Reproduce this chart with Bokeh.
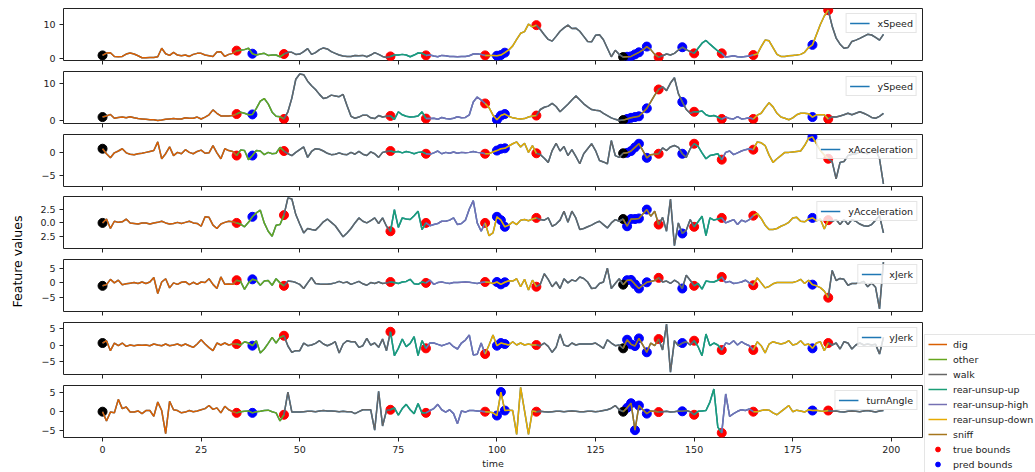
import numpy as np
from bokeh.plotting import figure
from bokeh.models import Range1d, LinearAxis, FixedTicker, Legend, LegendItem, Label
from bokeh.layouts import column, row
from bokeh.embed import file_html
from bokeh.resources import INLINE

# ---------------- data ----------------
time = np.arange(0, 199)

x_speed = [
    0.9, 1.6, 1.7, 0.6, 0.5, 0.6, 1.3, 1.6, 1.3, 0.8,
    0.2, 0.2, 0.3, 0.3, 0.5, 3.0, 1.4, 0.9, 1.8, 1.0,
    0.8, 1.0, 0.6, 1.2, 1.5, 1.5, 1.0, 0.8, 0.6, 1.9,
    2.0, 0.6, 1.2, 1.5, 2.3, 2.4, 2.6, 3.0, 1.4, 1.0,
    1.3, 1.5, 0.9, 1.0, 1.0, 0.5, 1.3, 1.8, 1.8, 1.2,
    1.3, 2.0, 2.9, 1.2, 1.7, 2.6, 3.1, 2.8, 2.0, 1.5,
    1.0, 0.7, 0.6, 0.6, 0.9, 0.8, 0.9, 0.5, 1.0, 1.7,
    1.2, 0.6, 0.3, 0.6, 1.0, 1.0, 1.2, 1.0, 0.5, 1.0,
    1.6, 1.5, 0.9, 1.0, 0.7, 0.5, 0.9, 0.8, 0.6, 0.6,
    0.5, 0.6, 0.6, 0.8, 1.3, 1.4, 1.2, 0.9, 0.9, 0.9,
    0.8, 1.0, 1.7, 2.5, 3.7, 5.6, 7.4, 7.9, 10.1, 9.3,
    9.8, 8.5, 7.0, 5.6, 5.1, 6.5, 8.0, 9.0, 9.8, 8.8,
    8.9, 8.0, 6.5, 5.0, 4.9, 6.8, 7.0, 5.5, 3.0, 0.5,
    2.4, 1.2, 0.4, 0.5, 0.6, 1.2, 1.8, 2.5, 3.5, 2.6,
    1.2, 0.4, 0.8, 1.3, 1.0, 1.5, 2.5, 3.3, 2.6, 2.0,
    1.5, 3.0, 4.5, 5.3, 4.2, 3.2, 2.2, 1.5, 0.4, 0.6,
    0.8, 0.5, 0.4, 0.6, 0.7, 1.0, 1.3, 3.5, 5.4, 5.2,
    3.2, 1.2, 0.6, 0.6, 0.8, 0.9, 1.0, 1.2, 1.8, 3.2,
    4.0, 7.0, 10.0, 12.5, 14.2, 9.5, 6.0, 4.2, 3.0, 3.2,
    5.0, 5.4, 5.9, 6.5, 7.1, 6.9, 6.2, 5.4, 7.1,
]

y_speed = [
    1.0, 1.3, 1.7, 0.7, 0.9, 1.0, 0.8, 1.1, 0.8, 0.6,
    0.5, 0.4, 0.3, 0.3, 0.1, 0.2, 0.4, 0.5, 0.6, 0.5,
    0.5, 0.8, 0.7, 0.7, 1.0, 0.5, 1.0, 1.6, 2.9, 2.0,
    1.3, 1.3, 1.3, 1.4, 1.8, 2.3, 2.0, 1.6, 1.7, 3.3,
    5.2, 5.9, 4.5, 2.3, 1.2, 1.1, 0.5, 2.4, 6.0, 11.0,
    12.4, 12.2, 10.5, 9.3, 8.3, 7.0, 5.9, 6.2, 6.8, 6.6,
    6.4, 7.0, 4.0, 1.2, 0.7, 1.0, 1.5, 1.5, 0.8, 0.6,
    1.4, 1.0, 1.2, 1.3, 0.4, 2.4, 1.6, 1.2, 1.0, 1.1,
    1.3, 2.4, 0.6, 0.6, 0.7, 0.4, 0.9, 0.6, 0.5, 0.7,
    1.1, 0.8, 0.9, 1.6, 5.0, 6.3, 5.5, 4.6, 3.5, 1.5,
    0.3, 1.4, 1.8, 1.2, 0.8, 0.6, 0.5, 0.6, 1.0, 1.3,
    1.4, 3.0, 3.6, 3.9, 4.6, 3.8, 2.4, 3.4, 4.4, 5.5,
    6.6, 5.6, 4.5, 3.7, 3.0, 2.8, 2.7, 2.0, 1.4, 0.8,
    0.4, 0.1, 0.2, 0.5, 0.8, 1.0, 1.2, 2.2, 3.3, 5.0,
    6.8, 8.3, 9.0, 8.0, 10.0, 11.4, 7.2, 5.0, 3.0, 2.0,
    2.4, 2.4, 2.6, 1.6, 1.2, 1.4, 1.0, 0.5, 1.0, 0.6,
    0.5, 1.1, 0.5, 0.6, 0.8, 0.5, 1.5, 2.0, 3.5, 4.8,
    3.7, 2.0, 1.0, 0.7, 0.3, 0.8, 1.6, 2.0, 2.0, 1.9,
    1.0, 1.6, 1.6, 1.6, 0.5, 1.1, 1.0, 1.3, 1.6, 2.0,
    1.6, 2.0, 2.4, 2.0, 1.5, 0.9, 0.7, 1.2, 2.0,
]

x_acceleration = [
    0.9, -0.2, -1.1, 0.0, 0.4, 0.9, 0.0, -0.3, -0.4, -0.2,
    -0.1, 0.1, 0.3, 0.5, 2.4, -1.3, -0.2, 1.3, -0.6, 0.1,
    -0.2, 0.7, 0.1, -0.2, 0.3, 0.6, -0.1, 0.0, 1.6, 0.0,
    -1.3, 0.9, 0.5, 0.3, -0.6, 0.6, 0.5, -1.5, -0.6, 0.5,
    0.4, -0.4, 0.1, -0.2, -0.1, 1.2, 0.4, -0.2, -0.6, 0.1,
    0.7, 1.3, -1.0, 0.3, 0.9, 0.8, 0.4, -0.1, -0.4, -0.3,
    0.0, -0.3, -0.4, 0.1, -0.3, 0.3, -0.3, -0.6, 0.2, -0.2,
    -1.0, 0.1, 0.3, 0.4, 0.2, 0.3, 0.0, 0.3, 0.1, -0.2,
    0.1, 0.2, -0.2, -0.3, 0.0, 0.4, -0.2, 0.1, -0.1, 0.2,
    -0.1, 0.1, 0.0, 0.1, 0.3, 0.1, 0.0, -0.2, -0.2, 0.2,
    0.5, 0.9, 1.0, 1.5, 2.0, 2.4, 1.3, 2.1, 0.1, 1.6,
    -0.1, -0.4, -1.2, -2.1, 0.5, 2.1, 0.4, 1.4, -0.6, 0.7,
    -0.8, -2.4, -0.2, 0.9, 2.0, 0.5, -1.7, -2.0, -2.4, 2.7,
    -0.6, -1.0, -0.1, 0.0, 0.4, 1.2, 2.0, 0.5, -1.1, -0.4,
    -0.3, -0.2, 1.1, 0.5, 1.3, 1.6, 1.2, -0.2, -1.0, 0.9,
    2.0, 1.4, 0.0, -1.3, -0.6, -0.4, -0.2, -1.5, 0.1, 0.4,
    -0.4, 0.0, 0.4, 0.7, 0.9, 0.7, 2.4, 2.2, 1.6, -0.5,
    -2.1, -1.3, -0.6, 0.1, 0.1, 0.2, 0.3, 0.4, 1.6, 3.2,
    3.5, 2.0, 0.5, -0.5, -1.3, -2.0, -5.7, -2.1, -1.9, -0.6,
    -0.3, -0.2, 0.2, 0.0, -0.2, 0.4, 0.8, -1.3, -6.8,
]

y_acceleration = [
    0.0, 0.7, -1.0, 0.3, 0.1, 0.2, 0.7, 0.0, -0.1, -0.2,
    0.0, 0.0, -0.2, 0.0, 0.1, 0.3, 0.0, -0.2, -0.1, 0.1,
    -0.1, 0.1, 0.3, 0.0, -0.1, -0.6, 1.1, 1.0, -0.4, -1.0,
    -0.2, 0.1, 0.3, 0.2, 0.0, -0.2, -0.7, 0.1, 1.1, 1.8,
    2.3, 0.0, -1.5, -2.4, -0.4, -0.3, 1.4, 4.5, 4.3, 1.5,
    -0.2, -1.8, -1.0, -1.2, -1.3, -0.6, 0.2, 0.7, 0.1, -0.5,
    -1.5, -2.5, -1.8, -1.0, 0.0, 0.9, 0.3, 0.0, 0.4, 0.9,
    -0.1, 0.9, -0.6, -1.5, 2.4, -0.8, 0.9, 0.7, 0.6, 1.3,
    2.1, -1.2, 0.0, -0.5, -0.3, -0.1, 0.3, 0.3, 0.5, 0.9,
    -0.3, -0.1, 0.5, 2.5, 4.0, 0.0, -1.5, 0.0, -2.3, -1.8,
    1.1, 0.5, -0.7, -0.4, 0.2, -0.3, 0.5, 0.6, 0.4, 0.7,
    0.9, 0.6, 0.5, 0.9, -0.6, -0.2, 0.5, 2.1, 0.1, 2.1,
    0.9, -1.2, -1.0, -0.7, -0.4, 0.0, 0.3, -0.3, -0.9, 0.0,
    0.6, 0.3, 0.7, -0.6, 0.7, 0.7, 0.8, 1.6, 2.4, 1.2,
    2.1, -0.3, 1.0, -1.5, 4.3, -4.1, 0.0, -1.9, -1.3, 0.6,
    -0.7, 0.2, 1.2, -2.3, 0.9, 0.5, 0.7, 0.9, 0.0, 0.3,
    0.6, -0.3, 0.5, 0.2, 0.6, 1.3, 1.7, 0.8, -0.4, -1.2,
    -1.2, -1.0, -0.6, -0.3, 0.1, 0.9, 1.0, 0.3, 0.2, 0.7,
    0.9, 0.4, 0.7, -1.1, 0.5, 0.3, 0.6, -0.3, 0.6, -0.3,
    0.6, 0.3, -0.2, -0.5, -0.6, -0.3, 0.5, 1.3, -1.8,
]

x_jerk = [
    -1.0, -0.6, 1.2, 0.0, 0.9, -0.6, -0.3, -0.1, 0.1, -0.2,
    0.3, -0.2, 0.3, 1.8, -3.6, 0.3, 1.4, -1.7, 0.0, -0.5,
    0.2, 0.4, -0.6, 0.2, -0.5, 0.3, 0.1, 1.4, -0.5, -1.9,
    2.0, -0.5, -0.4, -0.5, 0.9, 0.5, -2.2, 0.0, 1.2, 0.8,
    -0.8, 0.6, 0.8, -0.8, 1.4, 0.0, -1.0, 0.6, 0.5, 0.1,
    -0.5, -1.9, 0.0, 1.8, -0.2, -0.4, -0.5, -0.5, -0.3, 0.0,
    0.5, 0.0, 0.3, -0.5, 0.0, 0.5, -0.3, -0.8, 0.1, -0.2,
    0.3, -0.2, 0.0, 0.3, 0.1, -0.2, 0.3, 0.5, 1.2, -0.3,
    -0.5, 0.3, 0.0, 0.9, -0.5, 0.1, 0.3, 0.0, -0.2, 0.1,
    0.1, 0.2, 0.3, 0.2, 0.0, -0.2, 0.1, 0.3, 0.2, -0.2,
    0.3, -0.5, 0.2, 0.7, 0.6, 1.4, -1.3, 1.2, -2.4, 0.9,
    -1.3, -0.5, 3.1, 1.2, -1.3, 0.3, -1.9, 1.4, 0.0, 1.0,
    0.6, 2.0, 1.5, 0.3, -1.9, -1.7, -0.2, 0.3, 5.0, -1.9,
    -0.2, 1.4, -0.6, 0.9, 1.0, -0.5, -1.9, -0.8, 0.2, 0.5,
    0.8, 1.7, 0.3, 0.6, -0.2, 0.9, 0.1, -1.9, 2.6, 0.9,
    -1.0, -0.2, -2.1, 0.6, 0.4, 0.3, 0.9, 2.0, 0.1, 0.5,
    -0.2, 0.0, 0.3, 0.9, 0.0, -0.8, 1.7, 0.0, -1.7, -1.2,
    -0.3, 0.1, 0.1, 0.1, 0.1, 0.1, 0.5, 1.2, -0.2, 0.9,
    -0.6, -1.0, -1.6, -2.8, -5.0, 4.2, 0.8, 1.5, 1.2, -0.8,
    -0.2, -0.2, 0.0, 0.5, -1.3, 0.0, -1.5, -8.8, 7.0,
]

y_jerk = [
    0.6, 1.3, -1.7, 0.6, -0.2, 0.6, -0.4, 0.0, -0.2, 0.0,
    -0.1, 0.0, -0.2, 0.3, 0.0, -0.2, 0.3, -0.2, 0.0, 0.3,
    -0.2, 0.3, -0.2, -0.7, 0.3, 1.6, 0.3, -0.8, -1.7, 0.6,
    0.0, 0.6, 0.0, 0.3, 0.3, 0.0, 1.0, 0.6, -0.2, 1.3,
    -2.4, -1.2, 0.5, 2.3, 0.6, 2.3, 2.8, -0.3, -2.2, -1.7,
    -1.7, 0.6, -0.2, 0.0, 0.5, 1.3, 0.3, -0.2, 0.3, 1.0,
    -2.4, 0.3, 1.3, 1.0, 1.0, -0.7, -0.2, 2.0, 0.0, 0.6,
    -0.7, 1.8, -1.7, 4.0, -3.2, -1.0, 1.8, -0.5, 0.5, 2.5,
    -3.2, 1.3, -1.0, 0.6, 0.6, 0.2, -0.2, 0.2, 0.6, -0.5,
    -1.2, 0.6, 1.5, 3.0, -3.0, -2.8, 0.6, -2.7, 0.0, 3.0,
    -0.2, 0.6, 0.3, 0.0, 1.0, 0.0, 0.6, 0.0, 0.3, 0.0,
    0.0, -0.2, 0.6, -0.4, -2.2, -0.7, 3.3, 0.0, -0.4, 0.6,
    0.0, 0.3, 0.3, 0.3, 0.3, 0.6, -0.2, -1.0, 1.6, 0.6,
    -0.2, 0.0, -1.0, 1.6, 0.2, -0.3, 2.0, 0.0, -2.2, 0.6,
    -0.2, 1.8, -1.5, 6.3, -8.2, 1.3, -0.2, 0.6, 1.0, 0.0,
    1.3, -0.5, -3.2, 3.3, -0.2, 0.6, 0.0, -1.5, 0.6, 0.3,
    1.3, 0.0, 1.0, 0.3, -0.2, -1.5, 1.0, -0.2, -2.4, 0.3,
    1.0, 0.6, 0.3, 0.6, 1.3, 0.0, 0.3, 1.3, 0.0, 0.3,
    -1.0, 0.6, 1.0, -1.7, 0.6, 0.0, 0.6, -1.2, 1.0, 0.6,
    -1.2, 0.0, 0.6, 0.0, 0.3, 0.0, 0.2, -2.7, 2.3,
]

turn_angle = [
    0.0, -2.4, -0.1, -0.3, 3.2, 0.8, 1.2, -0.1, -0.1, 0.2,
    -0.5, 0.3, 0.3, -1.2, 2.5, 0.3, -5.7, 2.7, 0.5, 0.3,
    -0.3, -0.1, 0.3, 0.0, 0.2, 0.5, 0.8, 1.6, 0.6, 1.0,
    -0.3, 1.4, 0.5, 0.0, -0.3, 0.0, 0.1, 0.2, -0.3, 0.0,
    0.1, 0.3, 0.4, 0.0, -0.3, -2.4, -0.8, 5.1, -0.1, -0.1,
    -0.1, 0.0, 0.1, 0.1, 0.0, 0.2, 0.3, 0.2, 0.2, 0.1,
    0.0, 0.1, 0.0, 0.0, -0.5, 0.0, 0.5, 0.5, 0.5, -4.8,
    5.3, -3.7, 0.3, 0.5, 1.0, -0.9, 0.8, 1.9, 0.5, -0.5,
    2.1, -0.3, -0.3, 0.3, 0.8, 1.9, 0.5, -0.1, 0.5, -0.5,
    -3.1, 0.2, -0.1, 0.3, 0.3, 0.2, 0.1, 0.0, -0.1, -0.3,
    -1.0, 5.1, 0.3, 0.4, 0.3, -5.9, 6.3, 0.2, -5.9, 0.2,
    0.0, 0.1, 0.0, -0.1, 0.0, 0.1, 0.1, 0.0, 0.1, 0.2,
    0.1, 0.0, 0.0, 0.1, 0.1, 0.0, 0.1, 0.3, 0.5, 0.9,
    1.6, 0.5, 0.0, 1.0, 2.2, -4.8, 1.6, 0.5, -0.5, 0.2,
    0.1, -0.1, 0.0, 0.1, -0.1, 0.0, 0.2, 0.1, 0.3, 0.0,
    -0.8, 0.1, 0.2, 0.3, 2.5, 5.9, -4.0, -5.5, 4.6, -1.2,
    -0.5, 0.1, 0.5, 0.3, 0.7, 0.0, 0.0, 0.3, 0.5, 0.4,
    -0.3, -0.8, 0.0, 0.8, 1.6, 0.0, 0.4, 0.2, -0.1, 0.5,
    0.3, 0.4, 0.2, 0.1, 0.3, 0.1, 0.2, 0.0, -0.1, 0.1,
    0.2, 0.1, 0.0, 0.2, 0.3, 0.1, -0.1, 0.2, 0.3,
]

feature_names = ["xSpeed", "ySpeed", "xAcceleration", "yAcceleration", "xJerk", "yJerk", "turnAngle"]
feature_values = [x_speed, y_speed, x_acceleration, y_acceleration, x_jerk, y_jerk, turn_angle]

y_limits = [(-0.6, 14.7), (-0.7, 13.05), (-7.4, 4.03), (-4.6, 4.75), (-9.67, 7.9), (-8.9, 6.8), (-6.7, 6.8)]
y_ticks = [[0, 10], [0, 10], [-5, 0], [-2.5, 0, 2.5], [-5, 0, 5], [-5, 0, 5], [-5, 0, 5]]
y_tick_labels = [["0", "10"], ["0", "10"], ["\u22125", "0"], ["2.5", "0.0", "2.5"],
                 ["\u22125", "0", "5"], ["\u22125", "0", "5"], ["\u22125", "0", "5"]]
x_ticks = [0, 25, 50, 75, 100, 125, 150, 175, 200]

seg_bounds = [0, 34, 46, 73, 82, 97, 110, 132, 141, 150, 157, 165, 184, 198]
seg_labels = ["dig", "other", "walk", "rear-unsup-up", "rear-unsup-high", "rear-unsup-down", "walk",
              "sniff", "walk", "rear-unsup-up", "rear-unsup-high", "rear-unsup-down", "walk"]
behaviors = ["dig", "other", "walk", "rear-unsup-up", "rear-unsup-high", "rear-unsup-down", "sniff"]
behavior_colors = ["#d95f02", "#66a61e", "#666666", "#1b9e77", "#7570b3", "#e6ab02", "#a6761d"]

true_bounds = [34, 46, 73, 82, 97, 110, 141, 150, 157, 165, 184]
pred_bounds = [38, 100, 101, 102, 133, 134, 135, 136, 138, 147, 180]
seq_starts = [0, 132]

# ---------------- layout / style ----------------
FONT = "DejaVu Sans"
TICK_FS = "9.5px"
INK = "#222222"
SEG_ALPHA = 1.0
MARK = 9
fig_heights = [66, 62, 63, 63, 63, 67, 88]
borders_top = [8, 5, 6, 5, 5, 5, 1]
borders_bottom = [6, 5, 5, 6, 6, 10, 35]

figs = []
for k in range(7):
    vals = np.array(feature_values[k])
    p = figure(width=893, height=fig_heights[k],
               x_range=Range1d(-9.9, 207.9), y_range=Range1d(*y_limits[k]),
               output_backend="svg", toolbar_location=None,
               x_axis_location=None, y_axis_location=None,
               min_border_left=33, min_border_right=1,
               min_border_top=borders_top[k], min_border_bottom=borders_bottom[k])
    p.grid.visible = False
    p.outline_line_color = INK
    p.outline_line_width = 1
    p.background_fill_color = "white"
    p.border_fill_color = "white"

    yax = LinearAxis(ticker=FixedTicker(ticks=y_ticks[k]),
                     major_label_overrides={t: s for t, s in zip(y_ticks[k], y_tick_labels[k])})
    yax.axis_line_color = None
    yax.major_tick_out = 4
    yax.major_tick_in = 0
    yax.minor_tick_line_color = None
    yax.major_tick_line_color = INK
    yax.major_label_text_font = FONT
    yax.major_label_text_font_size = TICK_FS
    yax.major_label_text_color = INK
    yax.major_label_standoff = 4
    p.add_layout(yax, "left")

    xax = LinearAxis(ticker=FixedTicker(ticks=x_ticks))
    xax.axis_line_color = None
    xax.major_tick_out = 4
    xax.major_tick_in = 0
    xax.minor_tick_line_color = None
    xax.major_tick_line_color = INK
    xax.major_label_text_font = FONT
    if k < 6:
        xax.major_label_text_font_size = "0px"
        xax.major_label_text_color = None
        xax.major_label_standoff = 0
    else:
        xax.major_label_text_font_size = TICK_FS
        xax.major_label_text_color = INK
        xax.major_label_standoff = 4
        xax.axis_label = "time"
        xax.axis_label_text_font = FONT
        xax.axis_label_text_font_size = TICK_FS
        xax.axis_label_text_font_style = "normal"
        xax.axis_label_text_color = INK
        xax.axis_label_standoff = 2
    p.add_layout(xax, "below")

    # bound markers (under the lines, as in the original)
    p.scatter(true_bounds, vals[true_bounds], size=MARK, color="red")
    p.scatter(pred_bounds, vals[pred_bounds], size=MARK, color="blue")
    p.scatter(seq_starts, vals[seq_starts], size=MARK, color="black")

    # full series line (legend entry), then coloured behaviour segments
    base = p.line(time, vals, color="#1f77b4", line_width=1.5)
    for b, c in zip(behaviors, behavior_colors):
        xs, ys = [], []
        for i, lab in enumerate(seg_labels):
            if lab == b:
                a, e = seg_bounds[i], seg_bounds[i + 1]
                xs.append(list(time[a:e + 1]))
                ys.append(list(vals[a:e + 1]))
        p.multi_line(xs, ys, color=c, line_width=1.5, line_alpha=SEG_ALPHA)

    leg = Legend(items=[LegendItem(label=feature_names[k], renderers=[base])],
                 location="top_right", margin=5, padding=3, spacing=0,
                 glyph_width=20, glyph_height=12, label_height=12, label_standoff=8,
                 border_line_color="#cccccc", border_line_width=1,
                 background_fill_color="white", background_fill_alpha=0.8,
                 label_text_font=FONT, label_text_font_size=TICK_FS, label_text_color=INK)
    p.add_layout(leg)
    figs.append(p)

# y label
lab = figure(width=30, height=472, x_range=Range1d(0, 1), y_range=Range1d(0, 1),
             output_backend="svg", toolbar_location=None,
             x_axis_location=None, y_axis_location=None, min_border=0)
lab.grid.visible = False
lab.outline_line_color = None
lab.add_layout(Label(x=17, y=211, x_units="screen", y_units="screen", text="Feature values",
                     angle=np.pi / 2, text_align="center", text_baseline="middle",
                     text_font=FONT, text_font_size="12.5px", text_color="black"))

# behaviour legend (its own renderers hold no visible data)
lf = figure(width=112, height=472, x_range=Range1d(0, 1), y_range=Range1d(0, 1),
            output_backend="svg", toolbar_location=None,
            x_axis_location=None, y_axis_location=None, min_border=0)
lf.grid.visible = False
lf.outline_line_color = None
items = []
nan2 = [np.nan, np.nan]
for b, c in zip(behaviors, behavior_colors):
    r = lf.line(x=nan2, y=nan2, color=c, line_width=1.5, line_alpha=SEG_ALPHA)
    items.append(LegendItem(label=b, renderers=[r]))
rt = lf.scatter(x=nan2, y=nan2, size=MARK, color="red")
rp = lf.scatter(x=nan2, y=nan2, size=MARK, color="blue")
items.append(LegendItem(label="true bounds", renderers=[rt]))
items.append(LegendItem(label="pred bounds", renderers=[rp]))
big = Legend(items=items, location=(1, -2), margin=0, padding=3, spacing=3,
             glyph_width=19, glyph_height=12, label_height=12, label_standoff=6,
             border_line_color="#cccccc", border_line_width=1,
             background_fill_color="white", background_fill_alpha=0.85,
             label_text_font=FONT, label_text_font_size=TICK_FS, label_text_color=INK)
lf.add_layout(big)

layout = row(lab, column(*figs, spacing=0), lf, spacing=0)

open("out.html", "w").write(file_html(layout, INLINE))
